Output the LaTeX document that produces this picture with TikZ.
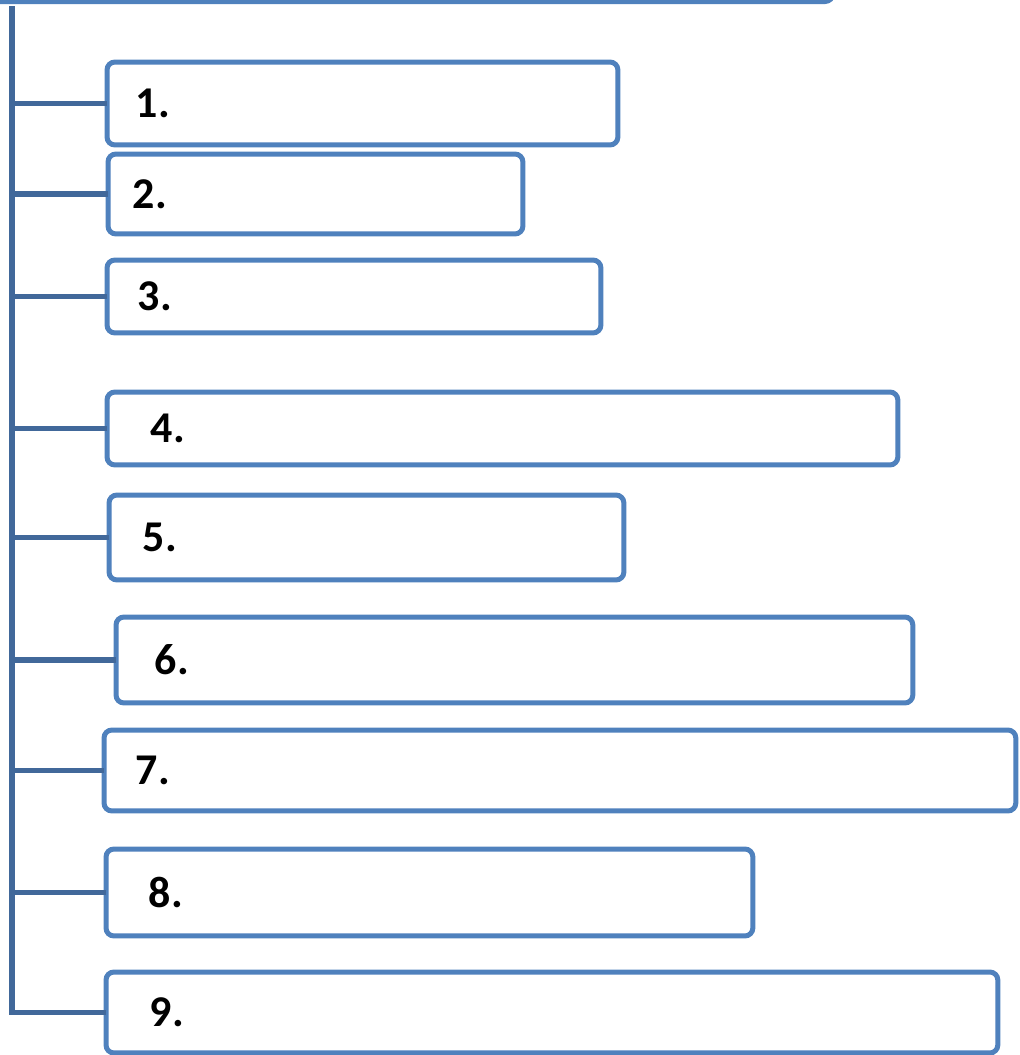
\documentclass[tikz,border=0pt]{standalone}
\usepackage{fontspec}
\setmainfont{Carlito}
\usepackage{xcolor}
\usetikzlibrary{positioning}
\definecolor{boxblue}{HTML}{4F81BD}
\definecolor{linkblue}{HTML}{41689A}
\tikzset{
  numbox/.style={rectangle, draw=boxblue, line width=0.1cm, fill=white,
                 rounded corners=0.16cm, align=left, anchor=north west,
                 outer sep=0pt, font=\fontsize{25}{29}\selectfont\bfseries},
  link/.style={draw=linkblue, line width=0.11cm},
}

\begin{document}
\begin{tikzpicture}[x=0.02cm, y=-0.02cm]
  \useasboundingbox (0,0) rectangle (1019,1055);
  \clip (0,0) rectangle (1019,1055);

  % Heading box (cut off at the top)
  \node[numbox, anchor=south east, minimum width=20cm, minimum height=2cm] (head) at (833,1.5) {};

  % Item boxes
  \node[numbox, text width=9.06cm,  inner xsep=0.58cm, minimum height=1.66cm] (b1) at (107,62)  {1.};
  \node[numbox, text width=7.30cm,  inner xsep=0.50cm, minimum height=1.60cm] (b2) at (108,154) {2.};
  \node[numbox, text width=8.64cm,  inner xsep=0.62cm, minimum height=1.46cm] (b3) at (107,260) {3.};
  \node[numbox, text width=14.06cm, inner xsep=0.88cm, minimum height=1.46cm] (b4) at (107,392) {4.};
  \node[numbox, text width=8.94cm,  inner xsep=0.68cm, minimum height=1.70cm] (b5) at (109,495) {5.};
  \node[numbox, text width=14.38cm, inner xsep=0.78cm, minimum height=1.72cm] (b6) at (116,617) {6.};
  \node[numbox, text width=16.96cm, inner xsep=0.64cm, minimum height=1.62cm] (b7) at (104,730) {7.};
  \node[numbox, text width=11.22cm, inner xsep=0.86cm, minimum height=1.74cm] (b8) at (106,849) {8.};
  \node[numbox, text width=16.08cm, inner xsep=0.88cm, minimum height=1.62cm] (b9) at (106,972) {9.};

  % Trunk and branches
  \coordinate (top) at (12,6);
  \draw[link] (top) |- (b9.west);
  \foreach \i in {1,...,8}
    \draw[link] (top |- b\i.west) -- (b\i.west);
\end{tikzpicture}
\end{document}
